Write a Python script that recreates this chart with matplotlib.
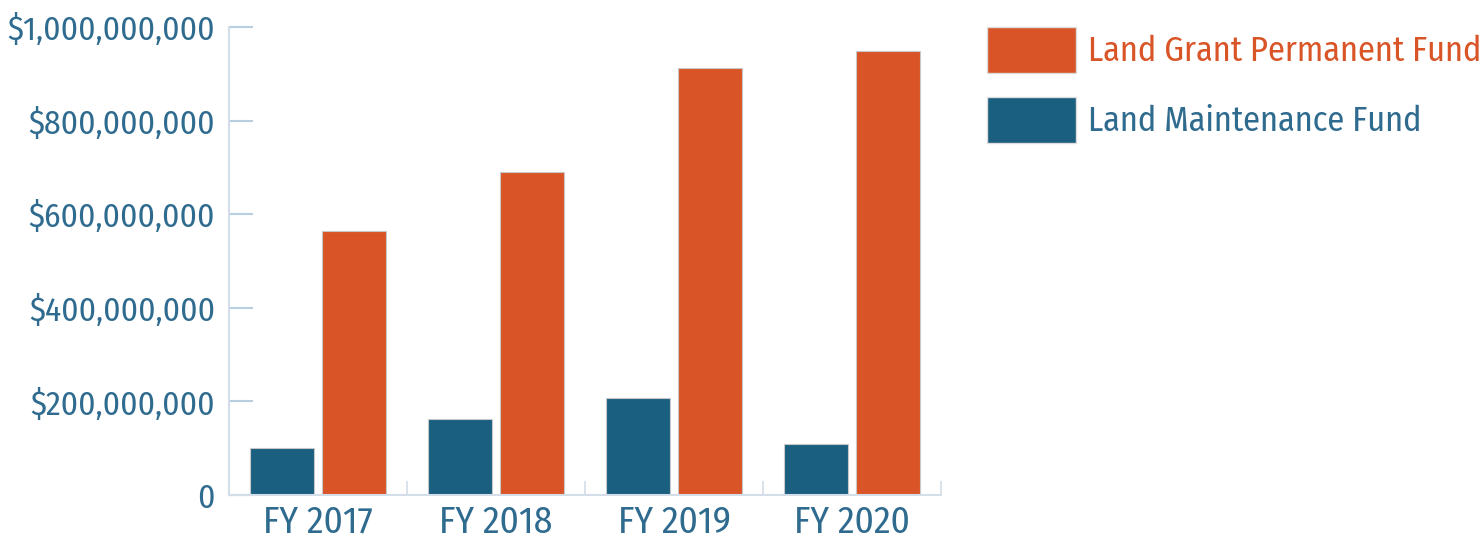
import matplotlib
matplotlib.use("Agg")
import matplotlib.pyplot as plt
import numpy as np
from matplotlib.patches import Patch
from matplotlib.ticker import FuncFormatter

categories = ["FY 2017", "FY 2018", "FY 2019", "FY 2020"]
maintenance = [100_000_000, 162_000_000, 207_000_000, 109_000_000]
permanent = [564_000_000, 690_000_000, 912_000_000, 949_000_000]
series_names = ["Land Grant Permanent Fund", "Land Maintenance Fund"]
yticks = [0, 200_000_000, 400_000_000, 600_000_000, 800_000_000, 1_000_000_000]

ORANGE = "#D95427"
BLUE = "#1A5E80"
TEXT_BLUE = "#2F6B8F"
AXIS = "#D3DEE8"
TICK = "#B7CFE0"

plt.rcParams['font.family'] = ['Fira Sans Condensed', 'DejaVu Sans']

fig = plt.figure(figsize=(14.81, 5.38), dpi=100)
ax = fig.add_axes([229/1481, 43/538, 712/1481, 468/538])

x = np.arange(len(categories))
w = 0.36
ax.bar(x - 0.2, maintenance, width=w, color=BLUE, edgecolor="#c8c8c8", linewidth=0.8)
ax.bar(x + 0.2, permanent, width=w, color=ORANGE, edgecolor="#c8c8c8", linewidth=0.8)

ax.set_xlim(-0.5, len(categories) - 0.5)
ax.set_ylim(0, 1_000_000_000)
ax.set_yticks(yticks)

def fmt(v, pos):
    if v == 0:
        return "0"
    return "${:,.0f}".format(v)
ax.yaxis.set_major_formatter(FuncFormatter(fmt))
ax.tick_params(axis='y', direction='in', length=17, width=1.5, color=TICK,
               labelsize=24, labelcolor=TEXT_BLUE, pad=10)

ax.set_xticks(x)
ax.set_xticklabels(categories)
ax.tick_params(axis='x', length=0, labelsize=27, labelcolor=TEXT_BLUE, pad=7)
ax.set_xticks(np.arange(len(categories)) + 0.5, minor=True)
ax.tick_params(axis='x', which='minor', direction='in', length=10, width=1.2, color=AXIS)

for s in ['top', 'right']:
    ax.spines[s].set_visible(False)
for s in ['left', 'bottom']:
    ax.spines[s].set_color(AXIS)
    ax.spines[s].set_linewidth(1.5)

fs = 24.7
handles = [Patch(facecolor=ORANGE, edgecolor="#dddddd"), Patch(facecolor=BLUE, edgecolor="#dddddd")]
leg = fig.legend(handles, series_names, loc='upper left', bbox_to_anchor=(977/1481, 1 - 17/538),
                 frameon=False, fontsize=fs, handlelength=2.6, handleheight=1.685,
                 labelspacing=0.7, handletextpad=0.35, borderaxespad=0, borderpad=0.3)
for t, c in zip(leg.get_texts(), [ORANGE, TEXT_BLUE]):
    t.set_color(c)

fig.savefig("out.png", dpi=100)
